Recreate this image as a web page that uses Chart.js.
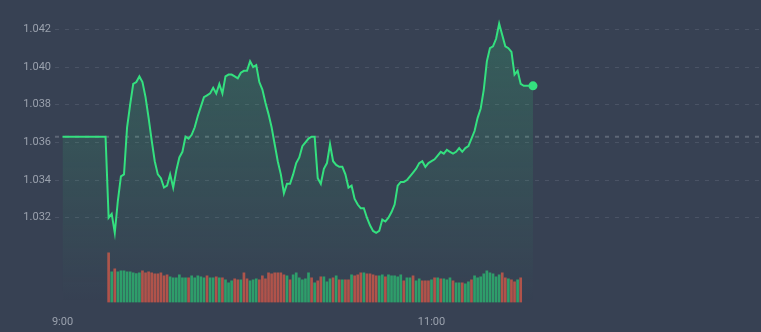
<!DOCTYPE html>
<html>
<head>
<meta charset="utf-8">
<script src="https://cdn.jsdelivr.net/npm/chart.js@4.4.1/dist/chart.umd.min.js"></script>
<style>
    html, body { margin: 0; padding: 0; background: #374153; }
    canvas { display: block; }
</style>
</head>
<body>
<canvas id="chart" width="761" height="332"></canvas>
<script>
// minutes after 9:00
const timeTicks = [0, 120];
const timeLabels = ['9:00', '11:00'];
const priceTicks = [1.032, 1.034, 1.036, 1.038, 1.040, 1.042];

const preClose = 1.0363;

// one price per minute, starting at 9:00
const priceStart = 0;
const prices = [
    1.0363, 1.0363, 1.0363, 1.0363, 1.0363, 1.0363, 1.0363, 1.0363, 1.0363, 1.0363,
    1.0363, 1.0363, 1.0363, 1.0363, 1.0363, 1.0320, 1.0322, 1.0312, 1.0329, 1.0342,
    1.0343, 1.0368, 1.0380, 1.0391, 1.0392, 1.0395, 1.0392, 1.0384, 1.0373, 1.0361,
    1.0350, 1.0343, 1.0341, 1.0336, 1.0337, 1.0343, 1.0336, 1.0345, 1.0352, 1.0355,
    1.0363, 1.0362, 1.0364, 1.0368, 1.0374, 1.0379, 1.0384, 1.0385, 1.0386, 1.0389,
    1.0386, 1.0391, 1.0386, 1.0395, 1.0396, 1.0396, 1.0395, 1.0394, 1.0397, 1.0398,
    1.0398, 1.0403, 1.0400, 1.0401, 1.0392, 1.0388, 1.0381, 1.0375, 1.0368, 1.0359,
    1.0350, 1.0343, 1.0333, 1.0338, 1.0338, 1.0343, 1.0349, 1.0352, 1.0358, 1.0360,
    1.0362, 1.0363, 1.0363, 1.0341, 1.0338, 1.0346, 1.0349, 1.0359, 1.0350, 1.0348,
    1.0347, 1.0347, 1.0343, 1.0336, 1.0337, 1.0330, 1.0327, 1.0325, 1.0325, 1.0320,
    1.0316, 1.0313, 1.0312, 1.0313, 1.0319, 1.0318, 1.0320, 1.0323, 1.0327, 1.0337,
    1.0339, 1.0339, 1.0340, 1.0342, 1.0344, 1.0346, 1.0349, 1.0350, 1.0347, 1.0349,
    1.0350, 1.0351, 1.0353, 1.0355, 1.0354, 1.0356, 1.0355, 1.0354, 1.0355, 1.0357,
    1.0355, 1.0357, 1.0358, 1.0362, 1.0366, 1.0373, 1.0378, 1.0388, 1.0403, 1.0410,
    1.0411, 1.0415, 1.0423, 1.0417, 1.0411, 1.0410, 1.0408, 1.0396, 1.0398, 1.0391,
    1.0390, 1.0390, 1.0390, 1.0390
];

// one volume bar per minute, starting at 9:15
const volumeStart = 15;
const volumes = [
    149, 92, 101, 92, 95, 95, 92, 92, 89, 87,
    89, 95, 89, 92, 89, 86, 86, 89, 80, 83,
    77, 74, 74, 83, 74, 74, 74, 80, 74, 80,
    77, 74, 80, 74, 74, 77, 74, 74, 68, 59,
    65, 71, 68, 68, 89, 71, 65, 68, 71, 68,
    80, 71, 89, 86, 89, 89, 89, 83, 80, 68,
    83, 89, 74, 68, 71, 89, 74, 59, 65, 77,
    77, 62, 71, 74, 80, 68, 68, 68, 68, 83,
    80, 83, 89, 89, 86, 86, 83, 80, 80, 83,
    77, 83, 80, 80, 77, 83, 65, 74, 74, 80,
    65, 71, 65, 65, 65, 68, 74, 74, 71, 71,
    68, 74, 65, 59, 59, 59, 56, 62, 68, 80,
    74, 77, 86, 95, 89, 86, 77, 83, 89, 74,
    71, 68, 62, 68, 74
];
// r = red bar, g = green bar
const volumeSide = (
    'rgrgggggggg' + 'rrrrrrrrr' + 'gggggg' + 'r' + 'ggggg' + 'r' + 'gg' + 'r' + 'g' + 'r' +
    'ggg' + 'rr' + 'g' + 'rr' + 'ggg' + 'rrrrrrrrr' + 'g' + 'r' + 'gggggg' + 'r' + 'g' + 'rr' +
    'ggg' + 'r' + 'g' + 'r' + 'g' + 'rr' + 'g' + 'rrr' + 'g' + 'rrrr' + 'gg' + 'r' + 'ggggg' +
    'r' + 'gg' + 'r' + 'gg' + 'rrr' + 'g' + 'r' + 'g' + 'r' + 'ggg' + 'r' + 'gg' + 'r' + 'gg' +
    'r' + 'ggggggggg' + 'rr' + 'g' + 'rr' + 'g' + 'r'
).split('');

const lineGreen = '#34e07f';
const barRed = '#b1524a';
const barGreen = '#2e9d6a';
const labelColor = '#9aa1ad';
const labelFont = { family: 'Roboto', size: 11 };

const xMin = -2.44;
const xMax = 227.15;

function areaFill(context) {
    const area = context.chart.chartArea;
    if (!area) return 'transparent';
    const g = context.chart.ctx.createLinearGradient(0, area.top, 0, area.bottom);
    g.addColorStop(0, 'rgba(52, 224, 127, 0.20)');
    g.addColorStop(1, 'rgba(52, 224, 127, 0.0)');
    return g;
}

const priceData = prices.map((p, i) => ({ x: priceStart + i, y: p }));
const volumeData = volumes.map((v, i) => ({ x: volumeStart + i, y: v }));

new Chart(document.getElementById('chart').getContext('2d'), {
    type: 'line',
    data: {
        datasets: [
            {
                data: priceData,
                yAxisID: 'y',
                borderColor: lineGreen,
                borderWidth: 2,
                tension: 0,
                fill: 'start',
                backgroundColor: areaFill,
                pointRadius: ctx => ctx.dataIndex === prices.length - 1 ? 4.5 : 0,
                pointBackgroundColor: lineGreen,
                pointBorderWidth: 0
            },
            {
                data: [{ x: xMin, y: preClose }, { x: xMax, y: preClose }],
                yAxisID: 'y',
                borderColor: '#5d6676',
                borderWidth: 2,
                borderDash: [4, 6],
                pointRadius: 0,
                fill: false
            },
            {
                type: 'bar',
                data: volumeData,
                yAxisID: 'yv',
                backgroundColor: volumeSide.map(s => s === 'r' ? barRed : barGreen),
                barThickness: 2
            }
        ]
    },
    options: {
        responsive: false,
        animation: false,
        layout: {
            autoPadding: false,
            padding: { top: 10.5, left: 0, right: 0, bottom: 0 }
        },
        plugins: {
            legend: { display: false },
            tooltip: { enabled: false }
        },
        scales: {
            x: {
                type: 'linear',
                min: xMin,
                max: xMax,
                offset: false,
                grid: { display: false },
                border: { display: false },
                ticks: {
                    color: labelColor,
                    font: labelFont,
                    padding: 5,
                    maxRotation: 0,
                    autoSkip: false,
                    callback: v => timeLabels[timeTicks.indexOf(v)] ?? ''
                },
                afterBuildTicks: axis => { axis.ticks = timeTicks.map(v => ({ value: v })); },
                afterFit: axis => {
                    axis.height = 29.5;
                    axis.paddingLeft = 0;
                    axis.paddingRight = 0;
                }
            },
            y: {
                type: 'linear',
                position: 'left',
                min: 1.0275,
                max: 1.043,
                grid: { color: '#4a5365', drawTicks: false },
                border: { display: false, dash: [4, 6] },
                ticks: {
                    color: labelColor,
                    font: labelFont,
                    padding: 4,
                    callback: v => v.toFixed(3)
                },
                afterBuildTicks: axis => { axis.ticks = priceTicks.map(v => ({ value: v })); },
                afterFit: axis => {
                    axis.width = 55;
                    axis.paddingTop = 0;
                    axis.paddingBottom = 0;
                }
            },
            yv: {
                type: 'linear',
                display: false,
                min: 0,
                max: 876
            }
        }
    }
});
</script>
</body>
</html>
